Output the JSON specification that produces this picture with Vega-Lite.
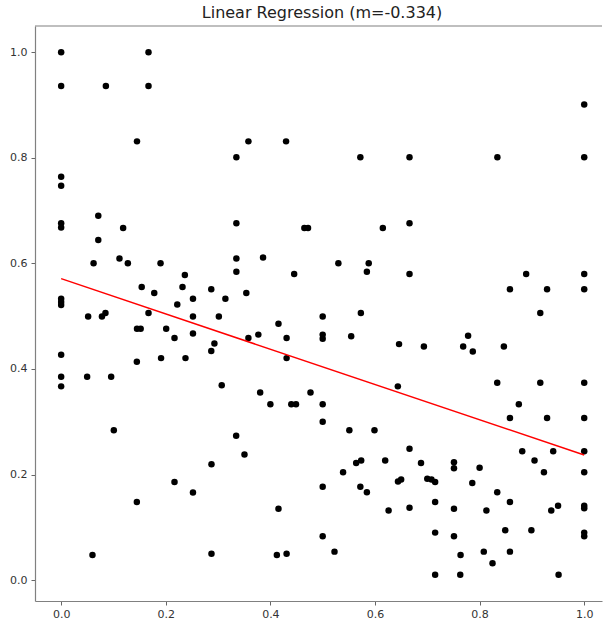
{
  "$schema": "https://vega.github.io/schema/vega-lite/v6.json",
  "width": 567,
  "height": 575,
  "padding": {"left": 9, "top": 5, "right": 0, "bottom": 0},
  "background": "white",
  "config": {
    "view": {"stroke": null},
    "font": "DejaVu Sans",
    "axis": {
      "grid": false,
      "domainColor": "#808080",
      "domainWidth": 1.2,
      "tickColor": "#666666",
      "tickSize": 4,
      "labelFont": "DejaVu Sans",
      "labelFontSize": 11,
      "labelColor": "#333333",
      "title": null
    }
  },
  "title": {
    "text": "Linear Regression (m=-0.334)",
    "font": "DejaVu Sans",
    "fontSize": 16,
    "fontWeight": "normal",
    "color": "#222222",
    "offset": 4,
    "dx": 3.5
  },
  "datasets": {
    "points": [
      {"x":0,"y":1.0},{"x":0,"y":0.936},{"x":0,"y":0.764},{"x":0,"y":0.747},{"x":0,"y":0.676},{"x":0,"y":0.668},{"x":0,"y":0.533},{"x":0,"y":0.527},{"x":0,"y":0.521},{"x":0,"y":0.427},{"x":0,"y":0.385},{"x":0,"y":0.367},
      {"x":0.167,"y":1.0},{"x":0.0855,"y":0.936},{"x":0.167,"y":0.936},{"x":0.145,"y":0.831},{"x":0.358,"y":0.831},{"x":0.43,"y":0.831},{"x":0.335,"y":0.801},{"x":0.071,"y":0.69},
      {"x":1.0,"y":0.901},{"x":0.572,"y":0.801},{"x":0.666,"y":0.801},{"x":0.834,"y":0.801},{"x":1.0,"y":0.801},
      {"x":0.071,"y":0.644},{"x":0.1185,"y":0.667},{"x":0.335,"y":0.676},{"x":0.465,"y":0.667},{"x":0.472,"y":0.667},
      {"x":0.062,"y":0.6},{"x":0.1115,"y":0.609},{"x":0.1275,"y":0.6},{"x":0.19,"y":0.6},{"x":0.335,"y":0.609},{"x":0.335,"y":0.584},{"x":0.386,"y":0.611},{"x":0.2365,"y":0.578},{"x":0.4455,"y":0.58},
      {"x":0.154,"y":0.555},{"x":0.178,"y":0.544},{"x":0.232,"y":0.555},{"x":0.287,"y":0.551},{"x":0.354,"y":0.544},{"x":0.252,"y":0.533},{"x":0.314,"y":0.533},{"x":0.222,"y":0.522},
      {"x":0.0516,"y":0.4995},{"x":0.078,"y":0.4995},{"x":0.0847,"y":0.506},{"x":0.167,"y":0.506},{"x":0.252,"y":0.4995},{"x":0.3015,"y":0.4995},{"x":0.5,"y":0.4995},
      {"x":0.145,"y":0.476},{"x":0.152,"y":0.476},{"x":0.2008,"y":0.476},{"x":0.2167,"y":0.4585},{"x":0.252,"y":0.467},{"x":0.293,"y":0.448},{"x":0.287,"y":0.434},{"x":0.358,"y":0.4585},{"x":0.377,"y":0.465},{"x":0.4155,"y":0.4857},{"x":0.431,"y":0.4585},{"x":0.431,"y":0.4205},
      {"x":0.5,"y":0.465},{"x":0.5,"y":0.457},
      {"x":0.1447,"y":0.4137},{"x":0.191,"y":0.4205},{"x":0.2377,"y":0.4205},
      {"x":0.0497,"y":0.385},{"x":0.0956,"y":0.385},{"x":0.307,"y":0.369},{"x":0.3805,"y":0.3555},{"x":0.4767,"y":0.3555},
      {"x":0.4,"y":0.333},{"x":0.44,"y":0.333},{"x":0.449,"y":0.333},{"x":0.5,"y":0.333},
      {"x":0.5,"y":0.3},{"x":0.1007,"y":0.284},{"x":0.3346,"y":0.2733},{"x":0.3505,"y":0.238},{"x":0.2874,"y":0.2196},{"x":0.2167,"y":0.186},{"x":0.252,"y":0.166},{"x":0.5,"y":0.1767},{"x":0.1447,"y":0.148},{"x":0.4155,"y":0.135},{"x":0.5,"y":0.083},{"x":0.0599,"y":0.0477},{"x":0.2874,"y":0.05},{"x":0.4124,"y":0.0477},{"x":0.431,"y":0.05},
      {"x":0.615,"y":0.667},{"x":0.666,"y":0.676},{"x":0.53,"y":0.6},{"x":0.588,"y":0.6},{"x":0.5845,"y":0.584},{"x":0.666,"y":0.58},{"x":0.889,"y":0.58},{"x":1.0,"y":0.58},{"x":0.858,"y":0.551},{"x":0.929,"y":0.551},{"x":1.0,"y":0.551},{"x":0.573,"y":0.506},{"x":0.916,"y":0.506},{"x":0.5545,"y":0.462},{"x":0.646,"y":0.447},{"x":0.6935,"y":0.4427},{"x":0.778,"y":0.463},{"x":0.7686,"y":0.4427},{"x":0.787,"y":0.433},{"x":0.8464,"y":0.4427},{"x":0.6437,"y":0.367},{"x":0.8337,"y":0.374},{"x":0.916,"y":0.374},{"x":1.0,"y":0.374},{"x":0.875,"y":0.333},
      {"x":0.858,"y":0.307},{"x":0.929,"y":0.307},{"x":1.0,"y":0.307},{"x":0.551,"y":0.284},{"x":0.599,"y":0.284},{"x":0.666,"y":0.2487},{"x":0.8815,"y":0.244},{"x":0.9407,"y":0.244},{"x":1.0,"y":0.244},
      {"x":0.564,"y":0.222},{"x":0.5736,"y":0.2265},{"x":0.6195,"y":0.2265},{"x":0.688,"y":0.222},{"x":0.751,"y":0.2233},{"x":0.751,"y":0.212},{"x":0.8,"y":0.2127},{"x":0.905,"y":0.2265},{"x":0.923,"y":0.2044},{"x":1.0,"y":0.2044},{"x":0.539,"y":0.2044},
      {"x":0.572,"y":0.177},{"x":0.5845,"y":0.1665},{"x":0.644,"y":0.187},{"x":0.65,"y":0.1905},{"x":0.7,"y":0.192},{"x":0.708,"y":0.1905},{"x":0.715,"y":0.186},{"x":0.786,"y":0.184},{"x":0.8337,"y":0.1665},
      {"x":0.626,"y":0.132},{"x":0.666,"y":0.137},{"x":0.715,"y":0.148},{"x":0.751,"y":0.135},{"x":0.813,"y":0.132},{"x":0.858,"y":0.148},{"x":0.937,"y":0.132},{"x":0.95,"y":0.141},{"x":1.0,"y":0.141},{"x":1.0,"y":0.136},
      {"x":0.715,"y":0.09},{"x":0.751,"y":0.083},{"x":0.849,"y":0.0945},{"x":0.899,"y":0.0945},{"x":1.0,"y":0.09},{"x":1.0,"y":0.083},
      {"x":0.5226,"y":0.054},{"x":0.7636,"y":0.0477},{"x":0.808,"y":0.054},{"x":0.858,"y":0.054},{"x":0.8247,"y":0.032},{"x":0.715,"y":0.01},{"x":0.763,"y":0.01},{"x":0.951,"y":0.01}
    ],
    "fit": [
      {"x": 0, "y": 0.571},
      {"x": 1, "y": 0.237}
    ],
    "frame": [
      {"y": 1.0495}
    ]
  },
  "encoding": {
    "x": {
      "field": "x",
      "type": "quantitative",
      "scale": {"domain": [-0.05, 1.034], "nice": false, "zero": false},
      "axis": {"values": [0, 0.2, 0.4, 0.6, 0.8, 1.0], "format": ".1f", "labelPadding": 3}
    },
    "y": {
      "field": "y",
      "type": "quantitative",
      "scale": {"domain": [-0.0395, 1.0495], "nice": false, "zero": false},
      "axis": {"values": [0, 0.2, 0.4, 0.6, 0.8, 1.0], "format": ".1f", "labelPadding": 4}
    }
  },
  "layer": [
    {
      "data": {"name": "points"},
      "mark": {"type": "point", "filled": true, "shape": "circle", "size": 42, "color": "black", "opacity": 1}
    },
    {
      "data": {"name": "fit"},
      "mark": {"type": "line", "color": "#ff0000", "strokeWidth": 1.5}
    },
    {
      "data": {"name": "frame"},
      "mark": {"type": "rule", "color": "#808080", "strokeWidth": 1.2},
      "encoding": {"x": null, "y": {"field": "y", "type": "quantitative"}}
    }
  ]
}
